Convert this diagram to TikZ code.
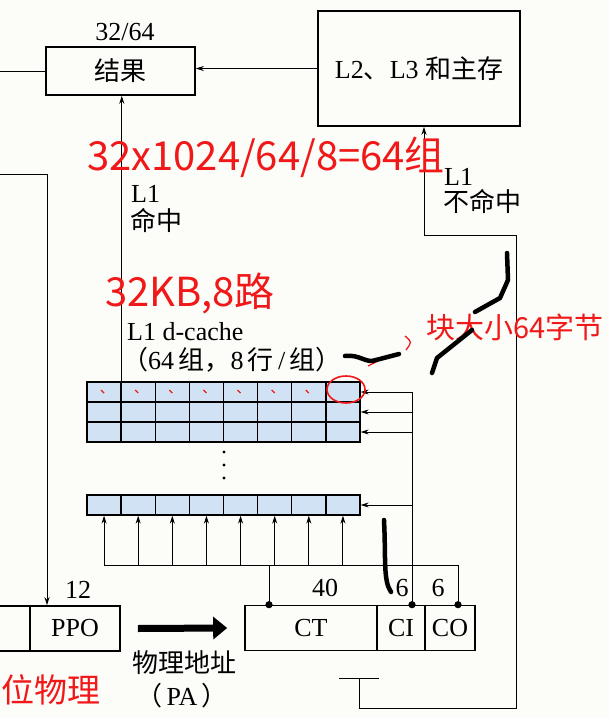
\documentclass[tikz,border=0pt]{standalone}
\usepackage{fontspec}
\setmainfont{Liberation Serif}
\newfontfamily\cjk{Noto Sans CJK SC}
\usetikzlibrary{arrows.meta,calc}
\definecolor{cellblue}{RGB}{208,226,243}
\definecolor{paper}{RGB}{252,252,248}
\definecolor{pen}{RGB}{240,24,24}

\begin{document}
\begin{tikzpicture}[x=1pt,y=-1pt,
    font=\fontsize{26}{30}\selectfont,
    >={Stealth[length=8pt,width=5pt]},
    box/.style={draw, line width=1.6pt, inner sep=0pt},
    cell/.style={draw, line width=1.3pt, fill=cellblue, minimum width=34.125pt,
      minimum height=20pt, inner sep=0pt},
    wire/.style={line width=0.9pt},
    hand/.style={text=pen, inner sep=0pt, font=\cjk\fontsize{40}{44}\selectfont},
    ink/.style={line width=4.5pt, line cap=round, line join=round}]
    \fill[paper] (0,0) rectangle (609,718);
    \useasboundingbox (0,0) rectangle (609,718);

    % result and lower levels
    \node[box, minimum width=149pt, minimum height=48pt] (res) at (120.5,71) {\cjk 结果};
    \node (reswidth) at (125,32) {32/64};
    \node[box, minimum width=202pt, minimum height=115pt] (mem) at (419,68.5)
      {L2{\cjk 、}L3 {\cjk 和主存}};

    % L1 d-cache array
    \foreach \row/\y in {1/392,2/412,3/432,4/505}
      \foreach \col in {1,...,8}
        \node[cell] (r\row c\col) at ({87+(\col-0.5)*34.125},\y) {};
    \foreach \k in {0,1,2}
      \fill (224,{452+13*\k}) circle (1.6pt);
    \node[anchor=west, inner sep=0pt] (cachename) at (127,332) {L1 d-cache};
    \node[anchor=west, inner sep=0pt] (cacheorg) at (122,360)
      {{\cjk （}64\,{\cjk 组，}8\,{\cjk 行}\,/\,{\cjk 组）}};

    \node[anchor=west, inner sep=0pt] (hitl1) at (131,194) {L1};
    \node[anchor=west, inner sep=0pt] (hitcn) at (130,220) {\cjk 命中};
    \node[anchor=west, inner sep=0pt] (missl1) at (444,177) {L1};
    \node[anchor=west, inner sep=0pt] (misscn) at (443,201) {\cjk 不命中};

    % physical address
    \node[box, minimum width=60pt, minimum height=45pt] (ppn) at (0,628.5) {};
    \node[box, minimum width=90pt, minimum height=45pt] (ppo) at (75,628.5) {PPO};
    \node (ppobits) at (78,590) {12};
    \node[box, minimum width=132pt, minimum height=45pt] (ct) at (311,628) {CT};
    \node[box, minimum width=48pt, minimum height=45pt] (ci) at (401,628) {CI};
    \node[box, minimum width=50pt, minimum height=45pt] (co) at (450,628) {CO};
    \node (ctbits) at (325,588) {40};
    \node (cibits) at (402,588) {6};
    \node (cobits) at (438,588) {6};
    \node (pa) at (184,663) {\cjk 物理地址};
    \node (palbl) at (182,696) {{\cjk （}\,PA\,{\cjk ）}};

    \coordinate (resin) at (0,71);
    \coordinate (frame) at (0,174);
    \coordinate (ppoin) at ([xshift=-28pt]ppo.north);
    \coordinate (ctdot) at ([xshift=-42pt]ct.north);
    \coordinate (cidot) at ([xshift=11pt]ci.north);
    \coordinate (codot) at ([xshift=8pt]co.north);
    \coordinate (bus) at ($(r4c1.south)+(0,50)$);
    \coordinate (tee) at (359,678);
    \coordinate (loopr) at (516,708);
    \coordinate (missin) at (424,235);

    \draw[wire] (resin) -- (res.west);
    \draw[wire, ->] (frame) -| (ppoin);
    \draw[wire, ->] (mem.west) -- (mem.west -| res.east);
    \draw[wire, ->] (r1c1.north east) -- (r1c1.north east |- res.south);
    \draw[wire] (cidot) -- (cidot |- r1c8.east);
    \foreach \row in {1,...,4}
      \draw[wire, ->] (cidot |- r\row c8.east) -- (r\row c8.east);
    \draw[wire] (bus) -| (codot);
    \draw[wire] (ctdot) -- (ctdot |- bus);
    \foreach \col in {1,...,8}
      \draw[wire, ->] (r4c\col.south |- bus) -- (r4c\col.south);
    \foreach \p in {ctdot,cidot,codot}
      \fill (\p) circle (3.6pt);
    \draw[wire] ([xshift=-20pt]tee) -- ([xshift=20pt]tee);
    \draw[wire, ->] (tee) |- (loopr) |- (missin) -- (missin |- mem.south);
    \draw[line width=7pt, -{Triangle[length=14pt,width=22pt]}]
      ([xshift=17pt]ppo.east) -- ([xshift=-17pt]ct.west);

    % notes written over the figure
    \node[hand] (setcalc) at (266,157) {32x1024/64/8=64组};
    \node[hand] (cachesize) at (190,293) {32KB,8路};
    \node[hand, anchor=west, font=\cjk\fontsize{29}{32}\selectfont]
      (blocksize) at (426,327) {块大小64字节};
    \node[hand, anchor=west, font=\cjk\fontsize{33}{36}\selectfont]
      (pbits) at (1,690) {位物理};
    \draw[pen, line width=1.6pt] (346,389.5) ellipse (19pt and 13.5pt);
    \foreach \col in {1,...,7}
      \draw[pen, line width=1.3pt] ($(r1c\col)+(-3,-2)$) -- ++(3,3);
    \draw[pen, line width=1.3pt] (405,336) .. controls (412,342) .. (406,350);
    \draw[pen, line width=1.3pt] (368,366) -- (378,361);
    \draw[ink] (345,356) .. controls (360,354) and (366,364) .. (376,360) -- (399,354);
    \draw[ink] (432,373) -- (437,358) -- (472,330);
    \draw[ink] (475,312) -- (500,298) -- (508,280) -- (507,253);
    \draw[ink] (384,520) .. controls (386,560) and (383,580) .. (391,592);
  \end{tikzpicture}
\end{document}
